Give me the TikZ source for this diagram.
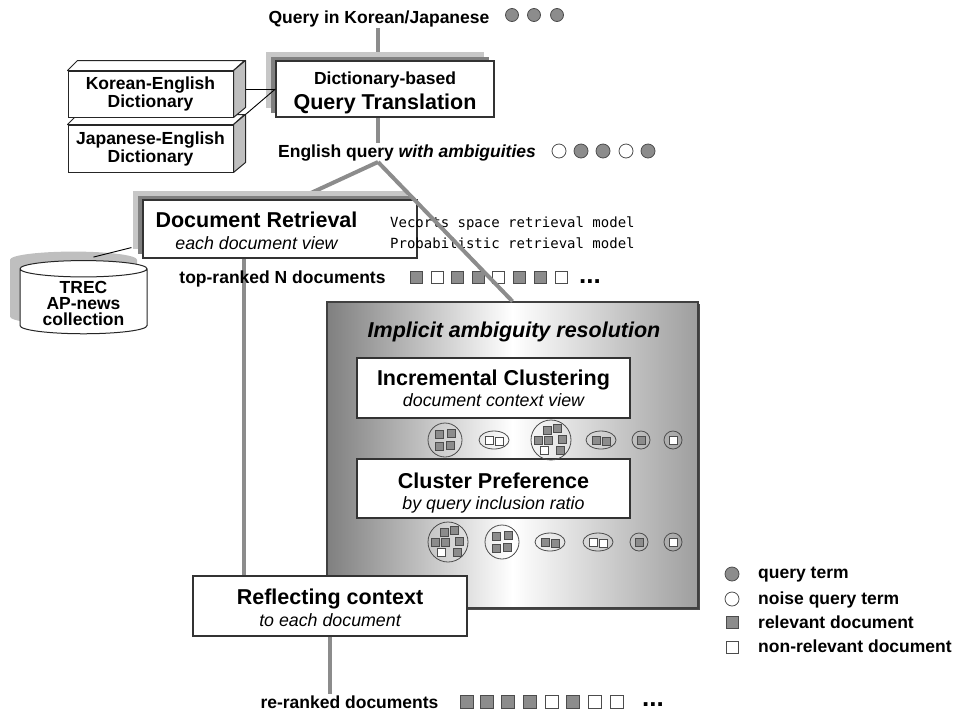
\documentclass[tikz,border=0pt]{standalone}
\usepackage{fontspec}
\setmainfont{Liberation Sans}
\setmonofont{DejaVu Sans Mono}
\usetikzlibrary{shapes.geometric, shadows, calc, backgrounds}

\definecolor{docgray}{gray}{0.55}
\newcommand{\lblfont}{\fontsize{17.5}{18}\selectfont\bfseries}
\newcommand{\headfont}{\fontsize{21.5}{23}\selectfont\bfseries}
\newcommand{\subfont}{\fontsize{17.8}{18}\selectfont\mdseries\itshape}

\tikzstyle{stage} = [rectangle, minimum width=274pt, minimum height=59pt, align=center, draw=black!80, line width=1.2pt, fill=white, inner sep=0pt, font=\lblfont]
\tikzstyle{raised} = [general shadow={fill=black!22, shadow xshift=-10pt, shadow yshift=9pt}, general shadow={fill=black!50, shadow xshift=-5pt, shadow yshift=4pt}]
\tikzstyle{dict} = [rectangle, minimum width=165pt, minimum height=46pt, align=center, draw=black!85, line width=1pt, fill=white, inner sep=0pt, font=\lblfont]
\tikzstyle{side} = [draw=black!85, line width=1pt, fill=black!25, line join=round]
\tikzstyle{lid} = [draw=black!85, line width=1pt, fill=white, line join=round]
\tikzstyle{store} = [cylinder, shape border rotate=90, aspect=0.2, minimum width=127pt, minimum height=71pt, align=center, draw=black!85, line width=1pt, fill=white, inner sep=0pt, font=\fontsize{17.5}{16}\selectfont\bfseries, general shadow={fill=black!25, shadow xshift=-10pt, shadow yshift=9pt}]
\tikzstyle{resolve} = [rectangle, minimum width=371pt, minimum height=306pt, draw=black!75, line width=1.2pt, left color=black!50, right color=black!38, middle color=white, general shadow={fill=black!70, shadow xshift=2pt, shadow yshift=-2pt}]
\tikzstyle{note} = [font=\lblfont, inner sep=1pt, anchor=base]
\tikzstyle{more} = [font=\fontsize{26}{26}\selectfont\bfseries, inner sep=0pt, text depth=0pt, anchor=base]
\tikzstyle{link} = [line width=4pt, draw=black!45]
\tikzstyle{tie} = [line width=0.9pt, draw=black]
\tikzstyle{term} = [draw=black!70, line width=0.8pt]
\tikzstyle{doc} = [draw=black!70, line width=0.8pt]
\tikzstyle{clus} = [draw=black!70, line width=0.8pt]

\begin{document}
\begin{tikzpicture}[x=1pt, y=-1pt]
    \useasboundingbox (0,0) rectangle (958,713);

    \node (query) [note] at (379,23) {Query in Korean/Japanese};
    \foreach \x in {512,534,557}
      \filldraw[term, fill=docgray] (\x,15) circle (6.5pt);

    \node (jedict) [dict, minimum height=47pt] at (150.5,148.5) {Japanese-English\\Dictionary};
    \filldraw[lid] (jedict.north west) -- ++(10,-10) -- ++(167,0) -- (jedict.north east) -- cycle;
    \filldraw[side] (jedict.north east) -- ++(12,-10) -- ($(jedict.south east)+(12,-10)$) -- (jedict.south east) -- cycle;
    \node (kedict) [dict] at (150.5,94) {Korean-English\\Dictionary};
    \filldraw[lid] (kedict.north west) -- ++(10,-10) -- ++(167,0) -- (kedict.north east) -- cycle;
    \filldraw[side] (kedict.north east) -- ++(12,-10) -- ($(kedict.south east)+(12,-10)$) -- (kedict.south east) -- cycle;

    \node (translation) [stage, raised, minimum width=218pt, minimum height=56pt] at (385,89)
      {\rule{0pt}{21pt}Dictionary-based\\[5pt]{\headfont Query Translation}};
    \draw [tie] ($(kedict.east)+(12,-5)$) -- (translation.west);
    \draw [tie] ($(jedict.north east)+(12,-10)$) -- (translation.west);

    \node (engq) [note] at (407,157) {English query \textit{with ambiguities}};
    \foreach \x/\c in {559/white, 581/docgray, 603/docgray, 626/white, 648/docgray}
      \filldraw[term, fill=\c] (\x,151) circle (7pt);
    \coordinate (split) at (378,162);

    \node (docret) [stage, raised, minimum height=58pt] at (280,229)
      {{\headfont\rule{0pt}{19pt}Document Retrieval}\hspace*{47pt}\\[3.5pt]{\subfont each document view}\hspace*{47pt}};
    \node (models) [font=\fontsize{14}{20.5}\selectfont\ttfamily, align=left, anchor=north west, inner sep=0pt] at (390,217)
      {Vecorts space retrieval model\\Probabilistic retrieval model};

    \node (trec) [store] at (83.5,301.5) {\rule{0pt}{16pt}TREC\\AP-news\\collection};
    \draw [tie] ($(trec.north)+(10,-3)$) -- ($(docret.south west)+(-11,-11)$);

    \node (topn) [note] at (282.5,283) {top-ranked N documents};
    \foreach \x/\c in {416/docgray, 437/white, 457/docgray, 478/docgray, 498/white, 519/docgray, 540/docgray, 561/white}
      \filldraw[doc, fill=\c] (\x-6,271) rectangle +(12,12);
    \node (topmore) [more] at (590,283) {...};

    \node (implicit) [resolve] at (512.5,455) {};
    \node (ambig) [note, font=\fontsize{21.5}{23}\selectfont\bfseries\itshape] at (514,337) {Implicit ambiguity resolution};
    \node (clustering) [stage, minimum width=273pt, minimum height=60pt] at (493.5,388)
      {{\headfont Incremental Clustering}\\[3pt]{\subfont document context view}};
    \node (preference) [stage, minimum width=273pt] at (493.5,488.5)
      {{\headfont\rule{0pt}{25pt}Cluster Preference}\\[3pt]{\subfont by query inclusion ratio}};

    % clusters
    \foreach \cx/\cy in {551/440, 448/542} {
      \begin{scope}[shift={(\cx,\cy)}]
        \draw[clus] (0,0) circle (20pt);
        \foreach \dx/\dy/\c in {-4/-10/docgray, 6/-12/docgray, -13/0/docgray, -3/0/docgray, 11/-1/docgray, -7/10/white, 9/10/docgray}
          \filldraw[doc, fill=\c] (\dx-4,\dy-4) rectangle +(8,8);
      \end{scope}
    }
    \foreach \cx/\cy in {445/440, 502/542} {
      \begin{scope}[shift={(\cx,\cy)}]
        \draw[clus] (0,0) circle (17pt);
        \foreach \dx/\dy in {-6/-6, 6/-7, -6/6, 5/5}
          \filldraw[doc, fill=docgray] (\dx-4,\dy-4) rectangle +(8,8);
      \end{scope}
    }
    \foreach \cx/\cy/\c in {494/440/white, 601/440/docgray, 550/542/docgray, 598/542/white} {
      \begin{scope}[shift={(\cx,\cy)}]
        \draw[clus] (0,0) ellipse (15pt and 9pt);
        \filldraw[doc, fill=\c] (-9,-4) rectangle +(8,8);
        \filldraw[doc, fill=\c] (1,-3) rectangle +(8,8);
      \end{scope}
    }
    \foreach \cx/\cy/\c in {641/440/docgray, 673/440/white, 639/542/docgray, 673/542/white} {
      \draw[clus] (\cx,\cy) circle (9pt);
      \filldraw[doc, fill=\c] (\cx-4,\cy-4) rectangle +(8,8);
    }

    \node (reflect) [stage, minimum height=60pt] at (330,606)
      {{\headfont\rule{0pt}{20pt}Reflecting context}\\[4pt]{\subfont to each document}};

    \node (rerank) [note] at (349.5,708) {re-ranked documents};
    \foreach \x/\c in {467/docgray, 487/docgray, 508/docgray, 530/docgray, 552/white, 573/docgray, 595/white, 617/white}
      \filldraw[doc, fill=\c] (\x-6.5,695.5) rectangle +(13,13);
    \node (rerankmore) [more] at (653,706) {...};

    \coordinate (feed) at ($(docret.south west)+(102,0)$);
    \begin{scope}[on background layer]
      \draw [link] (query.south -| split) -- (translation.north -| split);
      \draw [link] (translation.south -| split) -- (engq.north -| split);
      \draw [link] (split) -- ($(docret.north)+(17,0)$);
      \draw [link] (feed) -- (feed |- reflect.north);
      \draw [link] (reflect.south) -- (reflect.south |- rerank.north);
    \end{scope}
    \draw [link] (split) -- (implicit.north);

    % legend
    \filldraw[term, fill=docgray] (732,574) circle (7pt);
    \filldraw[term, fill=white] (732,599) circle (7pt);
    \filldraw[doc, fill=docgray] (726,616) rectangle +(12,12);
    \filldraw[doc, fill=white] (726,641) rectangle +(12,12);
    \node (key-term) [note, anchor=base west] at (757,578) {query term};
    \node (key-noise) [note, anchor=base west] at (757,604) {noise query term};
    \node (key-rel) [note, anchor=base west] at (757,628) {relevant document};
    \node (key-nonrel) [note, anchor=base west] at (757,652) {non-relevant document};
\end{tikzpicture}
\end{document}
